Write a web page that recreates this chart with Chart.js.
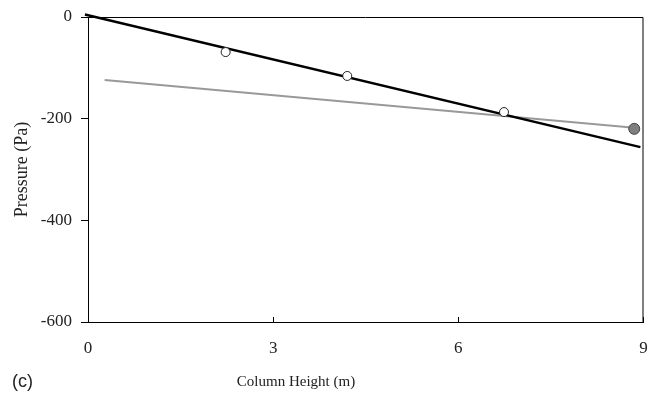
<!DOCTYPE html>
<html>
<head>
<meta charset="utf-8">
<script src="https://cdn.jsdelivr.net/npm/chart.js@4/dist/chart.umd.min.js"></script>
<style>
  html, body { margin: 0; padding: 0; background: #fff; }
</style>
</head>
<body>
<canvas id="chart" width="650" height="395"></canvas>
<script>
// measured points (open circles)
const measuredHeight = [2.23, 4.2, 6.74];
const measuredPressure = [-69, -116, -187];
// single grey point
const greyHeight = [8.85];
const greyPressure = [-220];
// black line
const blackHeight = [-0.05, 8.95];
const blackPressure = [5, -256];
// grey line
const greyLineHeight = [0.27, 8.85];
const greyLinePressure = [-124, -218];

const xTicks = [0, 3, 6, 9];
const yTicks = [-600, -400, -200, 0];

function pts(xs, ys) {
  return xs.map((x, i) => ({ x: x, y: ys[i] }));
}

const serif = 'Liberation Serif';

// box round the plot, x title (off centre in the original) and "(c)"
const boxPlugin = {
  id: 'box',
  afterDraw(chart) {
    const c = chart.ctx, a = chart.chartArea;
    c.save();
    c.strokeStyle = '#000';
    c.lineWidth = 1;
    c.beginPath();
    c.moveTo(a.left, a.top + 0.5);
    c.lineTo(a.right - 0.5, a.top + 0.5);
    c.lineTo(a.right - 0.5, a.bottom);
    c.stroke();
    c.fillStyle = '#222';
    c.textBaseline = 'middle';
    c.font = '15px "Liberation Serif"';
    c.textAlign = 'center';
    c.fillText('Column Height (m)', 296, 382);
    c.textAlign = 'left';
    c.font = '18px "Liberation Sans"';
    c.fillText('(c)', 12, 382);
    c.restore();
  }
};

new Chart(document.getElementById('chart'), {
  type: 'scatter',
  data: {
    datasets: [
      {
        data: pts(measuredHeight, measuredPressure),
        pointRadius: 4.5,
        pointBackgroundColor: '#fff',
        pointBorderColor: '#222',
        pointBorderWidth: 1,
        showLine: false
      },
      {
        data: pts(greyHeight, greyPressure),
        pointRadius: 5.5,
        pointBackgroundColor: '#7f7f7f',
        pointBorderColor: '#444',
        pointBorderWidth: 1,
        showLine: false
      },
      {
        data: pts(blackHeight, blackPressure),
        showLine: true,
        clip: false,
        borderColor: '#000',
        borderWidth: 2.5,
        pointRadius: 0
      },
      {
        data: pts(greyLineHeight, greyLinePressure),
        showLine: true,
        borderColor: '#999',
        borderWidth: 2,
        pointRadius: 0
      }
    ]
  },
  options: {
    responsive: false,
    animation: false,
    devicePixelRatio: 1,
    layout: { padding: { top: 17, right: 2, left: 0, bottom: 0 } },
    plugins: {
      legend: { display: false },
      tooltip: { enabled: false }
    },
    scales: {
      x: {
        type: 'linear',
        min: 0,
        max: 9,
        afterBuildTicks: s => { s.ticks = xTicks.map(v => ({ value: v })); },
        afterFit: s => { s.height = 73; s.paddingLeft = 0; s.paddingRight = 0; },
        border: { color: '#000', width: 1 },
        grid: { drawOnChartArea: false, drawTicks: true, tickLength: -5, color: '#000' },
        ticks: { color: '#222', padding: 21, font: { family: serif, size: 17 }, maxRotation: 0 }
      },
      y: {
        type: 'linear',
        min: -600,
        max: 0,
        afterBuildTicks: s => { s.ticks = yTicks.map(v => ({ value: v })); },
        afterFit: s => { s.width = 88; s.paddingTop = 0; s.paddingBottom = 0; },
        border: { color: '#000', width: 1 },
        grid: { drawOnChartArea: false, drawTicks: true, tickLength: 7, color: '#000' },
        ticks: { color: '#222', padding: 9, font: { family: serif, size: 17 } },
        title: {
          display: true,
          text: 'Pressure (Pa)',
          color: '#222',
          font: { family: serif, size: 18 },
          padding: { top: 11, bottom: 0 }
        }
      }
    }
  },
  plugins: [boxPlugin]
});
</script>
</body>
</html>
